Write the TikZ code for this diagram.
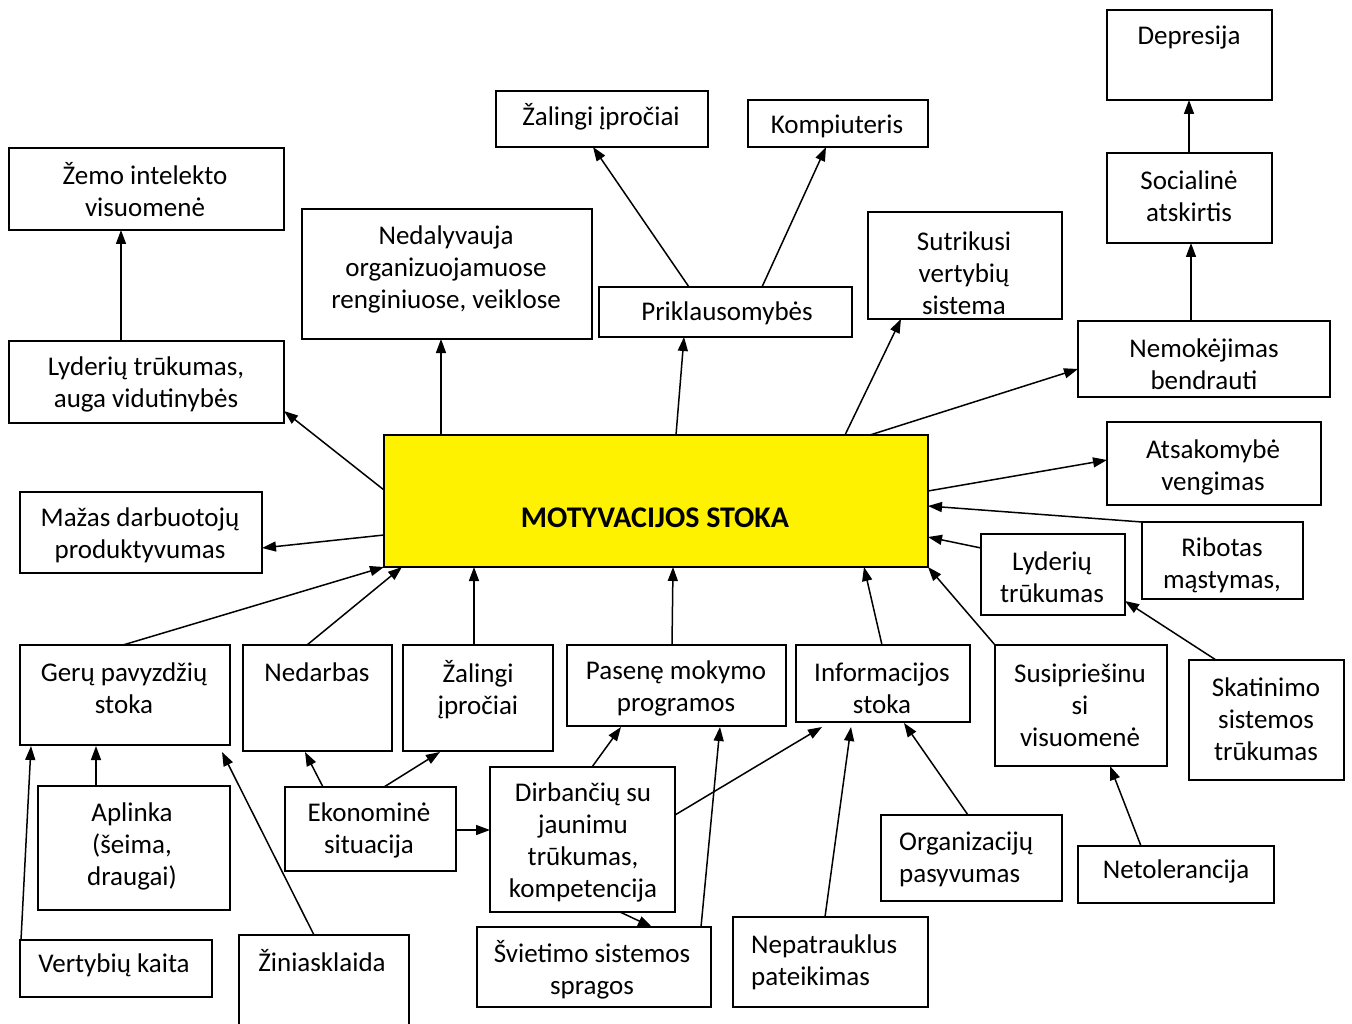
\documentclass[tikz,border=0pt]{standalone}
\usepackage{fontspec}
\setmainfont{Carlito}
\usetikzlibrary{arrows.meta,calc,fit}
\newcommand\bx[5]{\node[box, fit={(#2,#3) (#4,#5)}] (#1) {};}
\newcommand\cn[6]{\draw[arr] ($(#1.north west)+(#2,#3)$) -- ($(#4.north west)+(#5,#6)$);}
\begin{document}
\begin{tikzpicture}[x=1pt,y=-1pt,
  box/.style={draw=black, line width=1.6pt, inner sep=0pt, outer sep=0pt},
  mainbox/.style={box, fill=yellow, line width=2pt},
  txt/.style={align=center, inner sep=0pt, yshift=-2pt, text=black, font=\fontsize{27}{32}\selectfont},
  ltxt/.style={txt, align=left, anchor=west},
  arr/.style={draw=black, line width=1.5pt, -{Triangle[length=14pt,width=10pt]}}]
\clip (0,0) rectangle (1352,1024);
\fill[white] (0,0) rectangle (1352,1024);
% boxes
\bx{dep}{1107}{10}{1272}{100}
\bx{soc}{1107}{153}{1272}{243}
\bx{nem}{1078}{321}{1330}{397}
\bx{ats}{1107}{422}{1321}{505}
\bx{rib}{1142}{522}{1303}{599}
\bx{lyr}{981}{534}{1125}{615}
\bx{ska}{1189}{660}{1344}{780}
\bx{sus}{995}{645}{1167}{766}
\bx{net}{1078}{846}{1274}{903}
\bx{org}{881}{815}{1062}{901}
\bx{nep}{733}{917}{928}{1007}
\bx{inf}{796}{645}{970}{722}
\bx{pas}{567}{645}{786}{726}
\bx{zab}{403}{645}{553}{751}
\bx{ned}{243}{645}{392}{751}
\bx{ger}{20}{645}{230}{745}
\bx{apl}{38}{786}{230}{910}
\bx{ver}{20}{940}{212}{997}
\bx{zin}{239}{935}{409}{1040}
\bx{eko}{285}{787}{456}{871}
\bx{dir}{490}{767}{675}{912}
\bx{svi}{477}{927}{711}{1007}
\bx{maz}{20}{492}{262}{573}
\bx{lyl}{9}{341}{284}{423}
\bx{zem}{9}{148}{284}{230}
\bx{nda}{302}{209}{592}{339}
\bx{zat}{496}{91}{708}{147}
\bx{kom}{748}{100}{928}{147}
\bx{pri}{599}{287}{852}{337}
\bx{sut}{868}{212}{1062}{319}
\node[mainbox, fit={(384,435) (928,567)}] (c) {};
% connectors
\cn{lyl}{112}{0}{zem}{112}{82}
\cn{c}{0}{55}{lyl}{275}{70}
\cn{c}{57}{0}{nda}{139}{130}
\cn{c}{292}{0}{pri}{85}{50}
\cn{pri}{90}{0}{zat}{97}{56}
\cn{pri}{163}{0}{kom}{78}{47}
\cn{c}{461}{0}{sut}{33}{107}
\cn{c}{486}{0}{nem}{0}{48}
\cn{nem}{113}{0}{soc}{84}{90}
\cn{soc}{82}{0}{dep}{82}{90}
\cn{c}{544}{56}{ats}{0}{38}
\cn{rib}{0}{0}{c}{544}{71}
\cn{lyr}{0}{14}{c}{544}{102}
\cn{ska}{27}{0}{lyr}{144}{67}
\cn{sus}{0}{0}{c}{544}{132}
\cn{net}{63}{0}{sus}{115}{121}
\cn{org}{87}{0}{inf}{108}{78}
\cn{nep}{92}{0}{inf}{55}{82}
\cn{inf}{86}{0}{c}{480}{132}
\cn{dir}{185}{48}{inf}{26}{82}
\cn{svi}{224}{0}{pas}{153}{82}
\cn{dir}{102}{0}{pas}{54}{82}
\cn{dir}{130}{145}{svi}{175}{0}
\cn{pas}{105}{0}{c}{289}{132}
\cn{eko}{171}{43}{dir}{0}{63}
\cn{eko}{99}{0}{zab}{37}{107}
\cn{eko}{38}{0}{ned}{62}{107}
\cn{zab}{71}{0}{c}{90}{132}
\cn{ned}{64}{0}{c}{18}{132}
\cn{ger}{103}{0}{c}{0}{132}
\cn{c}{0}{100}{maz}{242}{56}
\cn{apl}{58}{0}{ger}{76}{101}
\cn{ver}{1}{0}{ger}{11}{101}
\cn{zin}{75}{0}{ger}{202}{107}
% texts
\node[txt] (dep-t) at (1189,36) {Depresija};
\node[txt] (soc-t) at (1189,194) {Socialinė\\atskirtis};
\node[txt] (nem-t) at (1204,362) {Nemokėjimas\\bendrauti};
\node[txt] (ats-t) at (1213,465) {Atsakomybė\\vengimas};
\node[txt] (rib-t) at (1222,563) {Ribotas\\mąstymas,};
\node[txt] (lyr-t) at (1052,575) {Lyderių\\trūkumas};
\node[txt] (ska-t) at (1266,717) {Skatinimo\\sistemos\\trūkumas};
\node[txt] (sus-t) at (1080,703) {Susipriešinu\\si\\visuomenė};
\node[txt] (net-t) at (1176,869) {Netolerancija};
\node[ltxt] (org-t) at (899,857) {Organizacijų\\pasyvumas};
\node[ltxt] (nep-t) at (751,960) {Nepatrauklus\\pateikimas};
\node[txt] (inf-t) at (882,686) {Informacijos\\stoka};
\node[txt] (pas-t) at (676,686) {Pasenę mokymo\\programos};
\node[txt] (zab-t) at (478,688) {Žalingi\\įpročiai};
\node[txt] (ned-t) at (317,670) {Nedarbas};
\node[txt] (ger-t) at (124,686) {Gerų pavyzdžių\\stoka};
\node[txt] (apl-t) at (132,844) {Aplinka\\(šeima,\\draugai)};
\node[txt] (ver-t) at (114,963) {Vertybių kaita};
\node[txt] (zin-t) at (322,959) {Žiniasklaida};
\node[txt] (eko-t) at (369,828) {Ekonominė\\situacija};
\node[txt] (dir-t) at (583,840) {Dirbančių su\\jaunimu\\trūkumas,\\kompetencija};
\node[txt] (svi-t) at (592,968) {Švietimo sistemos\\spragos};
\node[txt] (maz-t) at (140,533) {Mažas darbuotojų\\produktyvumas};
\node[txt] (lyl-t) at (146,382) {Lyderių trūkumas,\\auga vidutinybės};
\node[txt] (zem-t) at (145,188) {Žemo intelekto\\visuomenė};
\node[txt] (nda-t) at (446,267) {Nedalyvauja\\organizuojamuose\\renginiuose, veiklose};
\node[txt] (zat-t) at (601,115) {Žalingi įpročiai};
\node[txt] (kom-t) at (837,124) {Kompiuteris};
\node[txt] (pri-t) at (727,311) {Priklausomybės};
\node[txt] (sut-t) at (964,271) {Sutrikusi\\vertybių\\sistema};
\node[txt, font=\bfseries\fontsize{30}{34}\selectfont] (c-t) at (655,516) {MOTYVACIJOS STOKA};
\end{tikzpicture}
\end{document}
